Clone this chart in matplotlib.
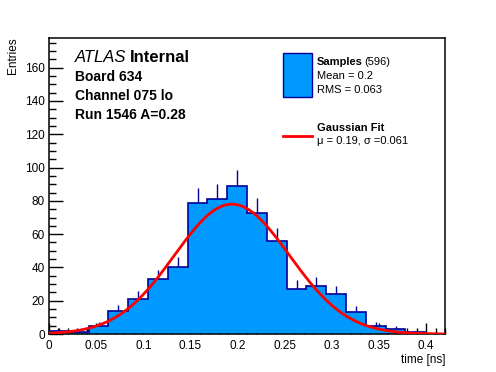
import matplotlib
matplotlib.use("Agg")
import matplotlib.pyplot as plt
from matplotlib.ticker import MultipleLocator
import numpy as np

plt.rcParams["font.family"] = ["Liberation Sans", "DejaVu Sans"]

# histogram: 20 bins from 0 to 0.42 ns
bin_edges = np.linspace(0.0, 0.42, 21)
counts = [2, 1, 5, 14, 21, 33, 40, 79, 81, 89, 73, 56, 27, 29, 24, 13, 5, 3, 1, 0]

# gaussian fit
fit_amp = 78.0
fit_mu = 0.194
fit_sigma = 0.061

fill_color = "#0099ff"
edge_color = "#00009a"

fig = plt.figure(figsize=(4.96, 3.72), dpi=100)
ax = fig.add_axes([0.0988, 0.102, 0.7984, 0.7966])

counts = np.array(counts, dtype=float)
centers = 0.5 * (bin_edges[:-1] + bin_edges[1:])
errs = np.sqrt(counts)

# error bars (lower half hidden by the fill)
mask = counts > 0
ax.vlines(centers[mask], counts[mask] - errs[mask], counts[mask] + errs[mask],
          color=edge_color, linewidth=1, zorder=1)
ax.stairs(counts, bin_edges, fill=True, color=fill_color, zorder=2)
ax.stairs(counts, bin_edges, color=edge_color, linewidth=1.2, zorder=3)

# fit curve
xs = np.linspace(0.0, 0.42, 400)
ys = fit_amp * np.exp(-0.5 * ((xs - fit_mu) / fit_sigma) ** 2)
ax.plot(xs, ys, color="red", linewidth=2, zorder=4)

ax.set_xlim(0, 0.42)
ax.set_ylim(0, 178)
ax.xaxis.set_minor_locator(MultipleLocator(0.01))
ax.yaxis.set_major_locator(MultipleLocator(20))
ax.yaxis.set_minor_locator(MultipleLocator(5))
ax.set_xticks(np.arange(0, 0.41, 0.05))
ax.set_xticklabels(["0", "0.05", "0.1", "0.15", "0.2", "0.25", "0.3", "0.35", "0.4"])
ax.tick_params(axis="both", which="both", direction="in", labelsize=8.5)
ax.tick_params(axis="x", which="major", length=8, width=1, pad=4)
ax.tick_params(axis="x", which="minor", length=4, width=1)
ax.tick_params(axis="y", which="major", length=10, width=1, pad=3)
ax.tick_params(axis="y", which="minor", length=5, width=1)
for sp in ax.spines.values():
    sp.set_linewidth(1.1)

ax.set_xlabel("time [ns]", fontsize=8.5, loc="right", labelpad=2)
ax.set_ylabel("Entries", fontsize=8.5, loc="top", labelpad=4)

# labels in the top left
fig.text(75 / 496, 1 - 58 / 372, "ATLAS", fontsize=12, style="italic", va="center")
fig.text(130 / 496, 1 - 58 / 372, "Internal", fontsize=12, weight="bold", va="center")
fig.text(75 / 496, 1 - 77 / 372, "Board 634", fontsize=10, weight="bold", va="center")
fig.text(75 / 496, 1 - 96 / 372, "Channel 075 lo", fontsize=10, weight="bold", va="center")
fig.text(75 / 496, 1 - 115 / 372, "Run 1546 A=0.28", fontsize=10, weight="bold", va="center")

# legend drawn by hand
lg = fig.add_axes([0, 0, 1, 1], facecolor="none")
lg.set_xlim(0, 496)
lg.set_ylim(372, 0)
lg.axis("off")
lg.add_patch(plt.Rectangle((283, 53), 29, 44, facecolor=fill_color,
                           edgecolor=edge_color, linewidth=1))
lg.text(317, 62, "Samples", fontsize=8, weight="bold", va="center")
lg.text(364, 62, "(596)", fontsize=8, va="center")
lg.text(317, 76, "Mean = 0.2", fontsize=8, va="center")
lg.text(317, 90, "RMS = 0.063", fontsize=8, va="center")
lg.plot([283, 312], [136, 136], color="red", linewidth=2)
lg.text(317, 128, "Gaussian Fit", fontsize=8, weight="bold", va="center")
lg.text(317, 141, "\u03bc = 0.19, \u03c3 =0.061", fontsize=8, va="center")

fig.savefig("out.png", dpi=100)
